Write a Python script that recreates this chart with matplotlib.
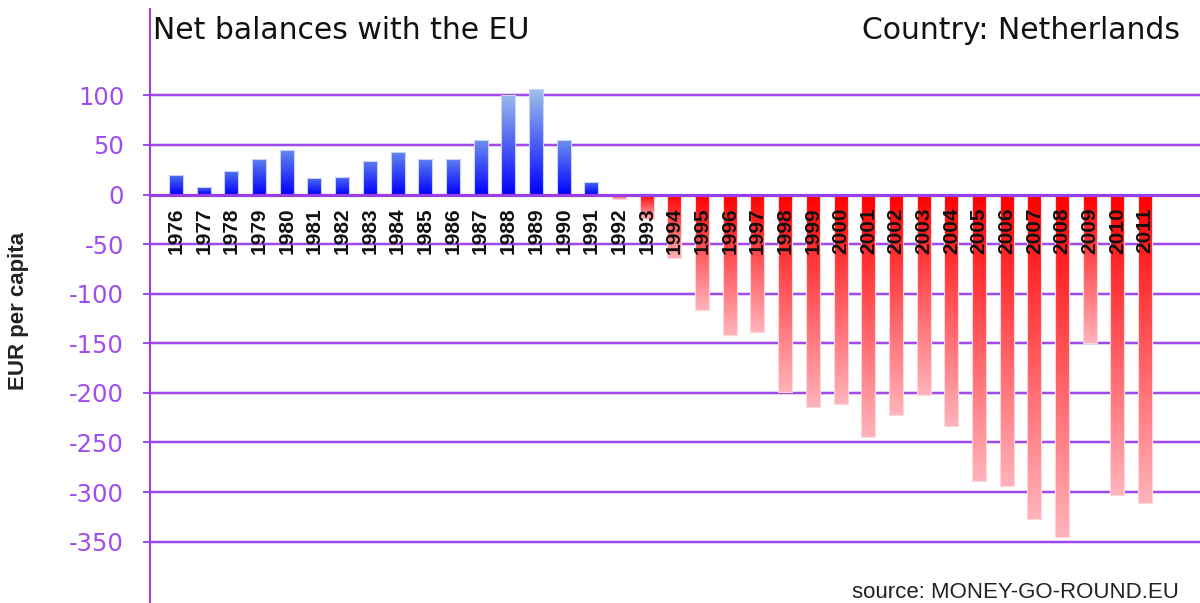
import numpy as np
import matplotlib
matplotlib.use('Agg')
import matplotlib.pyplot as plt
from matplotlib.colors import to_rgb
from matplotlib.patches import Rectangle

# data (EUR per capita)
years = list(range(1976, 2012))
balances = [20, 8, 24, 36, 45, 17, 18, 34, 43, 36, 36, 55, 100, 106, 55, 13,
            -5, -25, -64, -116, -142, -139, -199, -214, -211, -244, -222, -202,
            -233, -289, -294, -327, -345, -150, -303, -311]
yticks = [100, 50, 0, -50, -100, -150, -200, -250, -300, -350]

title_left = "Net balances with the EU"
title_right = "Country: Netherlands"
source_text = "source: MONEY-GO-ROUND.EU"
ylabel = "EUR per capita"

PURPLE = '#9a3ee8'
TICKCOL = '#a04cf0'
BLUE = to_rgb('#0000ff')
BLUE_TOP_LO = to_rgb('#3a5af0')
BLUE_TOP_HI = to_rgb('#9cc0ea')
RED = to_rgb('#ff0000')
PINK = to_rgb('#ffb2ba')
BAR_W = 0.506


def lerp(c0, c1, t):
    t = np.asarray(t)[:, None]
    return np.array(c0) * (1 - t) + np.array(c1) * t


fig = plt.figure(figsize=(12, 6.03), dpi=100)
ax = fig.add_axes([150 / 1200, 0, 1 - 150 / 1200, 1 - 9 / 603])

vmax = max(balances)
t = np.linspace(0, 1, 64)
for i, v in enumerate(balances):
    x0 = i - BAR_W / 2
    if v >= 0:
        top = lerp(BLUE_TOP_LO, BLUE_TOP_HI, [v / vmax])[0]
        cols = lerp(BLUE, top, t)
        ext = (x0, x0 + BAR_W, 0, v)
        edge = '#c8d2fa'
    else:
        cols = lerp(RED, PINK, t)[::-1]
        ext = (x0, x0 + BAR_W, v, 0)
        edge = '#ffd6da'
    ax.imshow(cols[:, None, :], extent=ext, origin='lower', aspect='auto',
              interpolation='bilinear', zorder=2)
    ax.add_patch(Rectangle((x0, min(0, v)), BAR_W, abs(v), fill=False,
                           edgecolor=edge, lw=0.8, zorder=2.5))

for y in yticks:
    if y == 0:
        ax.axhline(0, color=PURPLE, lw=2.3, zorder=3)
    else:
        ax.axhline(y, color='#dcc4f8', lw=2.6, zorder=0.9)
        ax.axhline(y, color=PURPLE, lw=1.3, zorder=1)

for i, yr in enumerate(years):
    ax.annotate(str(yr), xy=(i, 0), xytext=(0, -9.4), textcoords='offset points',
                rotation=90, ha='center', va='top', fontsize=15,
                fontweight='bold', family='Liberation Sans', color='#111111',
                zorder=4)

ax.set_xlim(-26 / 27.69, 1024 / 27.69)
ax.set_ylim(-411.8, 187)
ax.set_xticks([])
ax.set_yticks(yticks)
ax.set_yticklabels([str(y) for y in yticks], family='DejaVu Sans',
                   fontsize=17.5, color=TICKCOL)
ax.tick_params(axis='y', length=7 * 0.72, width=1.3, color=PURPLE,
               direction='out', pad=13.5)
for s in ['top', 'right', 'bottom']:
    ax.spines[s].set_visible(False)
ax.spines['left'].set_color(PURPLE)
ax.spines['left'].set_linewidth(1.5)
ax.patch.set_alpha(0)

fig.text(153 / 1200, 1 - 39 / 603, title_left, ha='left', va='baseline',
         fontsize=21.5, family='DejaVu Sans', color='#111111')
fig.text(1180 / 1200, 1 - 39 / 603, title_right, ha='right', va='baseline',
         fontsize=21.5, family='DejaVu Sans', color='#111111')
fig.text(1179 / 1200, 1 - 598 / 603, source_text, ha='right', va='baseline',
         fontsize=16, family='Liberation Sans', color='#222222')
fig.text(19 / 1200, 1 - 311 / 603, ylabel, rotation=90, ha='center',
         va='center', fontsize=16, fontweight='bold',
         family='Liberation Sans', color='#222222')

fig.savefig('out.png', dpi=100)
